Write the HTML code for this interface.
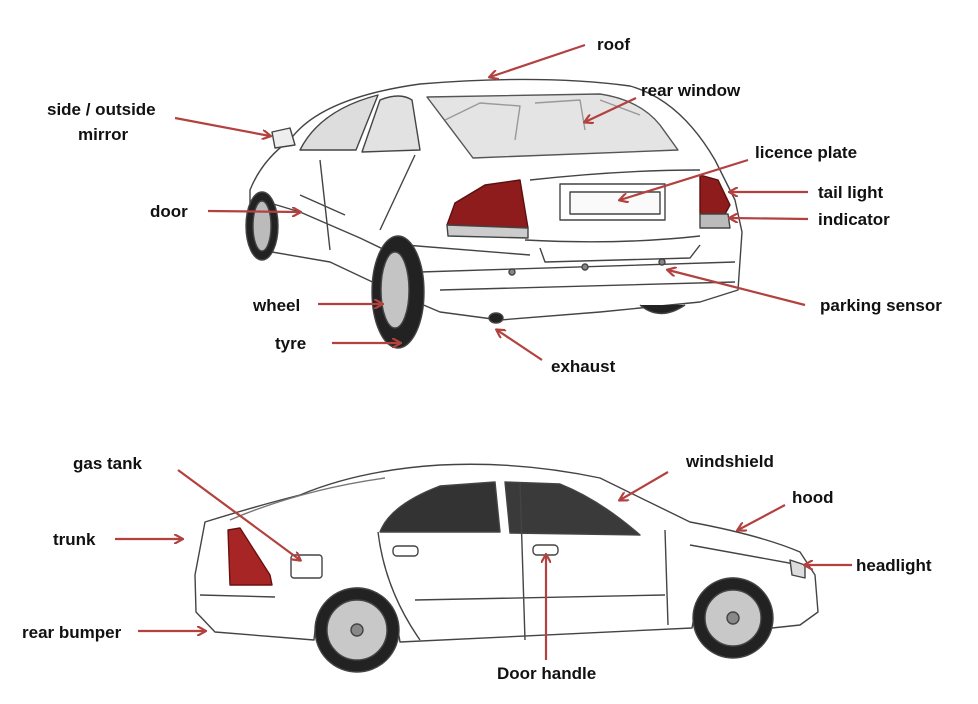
<!DOCTYPE html>
<html><head><meta charset="utf-8"><style>
html,body{margin:0;padding:0;background:#fff;}
svg{display:block}
text{font-family:"Liberation Sans",Arial,sans-serif;font-weight:bold;font-size:17px;fill:#111;}
</style></head><body>
<svg width="978" height="704" viewBox="0 0 978 704" xmlns="http://www.w3.org/2000/svg">
<defs>
<marker id="ah" markerWidth="10" markerHeight="10" refX="8" refY="5" orient="auto" markerUnits="userSpaceOnUse">
<path d="M0,0 L9,5 L0,10" fill="none" stroke="#b2413f" stroke-width="2.2"/>
</marker>
</defs>
<g fill="none" stroke="#444" stroke-width="1.4" stroke-linejoin="round">
<!-- REAR CAR -->
<path d="M250,190 Q262,160 290,140 Q320,98 420,84 Q540,74 630,86 Q680,100 715,160 L735,200 L742,232 L738,290 L700,302 L600,312 L500,320 L440,312 L400,295 L330,262 L272,252 L250,238 Z" fill="#fff"/>
<path d="M427,97 L600,94 Q640,100 660,125 L678,150 L473,158 Z" fill="#e4e4e4" stroke="#555"/>
<path d="M445,120 L480,103 L520,106 L515,140 M535,103 L580,100 L585,130 M600,100 L640,115" stroke="#999"/>
<path d="M300,150 Q320,110 378,95 L356,150 Z" fill="#ddd"/>
<path d="M362,152 L380,100 Q400,92 412,100 L420,150 Z" fill="#e2e2e2"/>
<path d="M272,132 L290,128 L295,145 L275,148 Z" fill="#eee"/>
<path d="M260,200 L300,212 L360,238 L385,250 M300,195 L345,215 M320,160 L330,250 M415,155 L380,230"/>
<path d="M447,225 L455,203 L485,185 L520,180 L528,228 Z" fill="#8e1c1c" stroke="#5a1010"/>
<path d="M447,225 L528,228 L528,238 L448,236 Z" fill="#ccc"/>
<path d="M700,175 L718,180 L730,205 L725,214 L700,214 Z" fill="#8e1c1c" stroke="#5a1010"/>
<path d="M700,214 L728,214 L730,228 L700,228 Z" fill="#bbb"/>
<rect x="560" y="184" width="105" height="36" fill="#fff"/>
<rect x="570" y="192" width="90" height="22" fill="#fafafa"/>
<path d="M530,180 Q620,170 700,170 M525,240 Q620,245 700,236 M540,248 L545,262 L690,258 L700,245 M405,245 L530,255 M420,272 L735,262 M440,290 L735,282"/>
<circle cx="512" cy="272" r="3" fill="#888"/><circle cx="585" cy="267" r="3" fill="#888"/><circle cx="662" cy="262" r="3" fill="#888"/>
<ellipse cx="262" cy="226" rx="16" ry="34" fill="#222"/>
<ellipse cx="262" cy="226" rx="9" ry="25" fill="#bbb"/>
<ellipse cx="398" cy="292" rx="26" ry="56" fill="#222"/>
<ellipse cx="395" cy="290" rx="14" ry="38" fill="#c4c4c4"/>
<path d="M640,305 Q660,322 685,305" fill="#222"/>
<ellipse cx="496" cy="318" rx="7" ry="5" fill="#222"/>
<!-- SIDE CAR -->
<path d="M205,522 Q260,505 300,495 Q360,470 440,465 Q520,461 600,478 Q645,500 690,522 Q760,535 800,552 L815,575 L818,612 L800,625 L772,628 Q760,578 733,578 Q700,578 692,628 L400,642 Q392,588 357,588 Q318,590 314,640 L215,632 L196,612 L195,575 Z" fill="#fff"/>
<path d="M380,532 Q390,505 440,486 L495,482 L500,532 Z" fill="#333"/>
<path d="M505,482 L560,484 Q600,500 640,535 L510,533 Z" fill="#3a3a3a"/>
<path d="M230,520 Q300,490 385,478" stroke="#777"/>
<path d="M228,530 L240,528 L270,575 L272,585 L230,585 Z" fill="#a82525" stroke="#6a1010"/>
<rect x="291" y="555" width="31" height="23" rx="3" fill="#fff"/>
<path d="M378,532 Q385,590 420,640 M520,482 L525,640 M665,530 L668,625 M415,600 L665,595 M200,595 L275,597 M690,545 L800,565"/>
<rect x="393" y="546" width="25" height="10" rx="4"/>
<rect x="533" y="545" width="25" height="10" rx="4"/>
<path d="M790,560 L805,565 L805,578 L792,575 Z" fill="#ddd"/>
<circle cx="357" cy="630" r="42" fill="#222"/>
<circle cx="357" cy="630" r="30" fill="#c8c8c8"/>
<circle cx="357" cy="630" r="6" fill="#888"/>
<circle cx="733" cy="618" r="40" fill="#222"/>
<circle cx="733" cy="618" r="28" fill="#c8c8c8"/>
<circle cx="733" cy="618" r="6" fill="#888"/>
</g>
<!-- ARROWS -->
<g stroke="#b2413f" stroke-width="2.2" fill="none" marker-end="url(#ah)">
<line x1="585" y1="45" x2="490" y2="77"/>
<line x1="636" y1="98" x2="585" y2="122"/>
<line x1="175" y1="118" x2="270" y2="136"/>
<line x1="748" y1="160" x2="620" y2="200"/>
<line x1="808" y1="192" x2="730" y2="192"/>
<line x1="808" y1="219" x2="730" y2="218"/>
<line x1="208" y1="211" x2="300" y2="212"/>
<line x1="318" y1="304" x2="382" y2="304"/>
<line x1="332" y1="343" x2="400" y2="343"/>
<line x1="805" y1="305" x2="668" y2="270"/>
<line x1="542" y1="360" x2="497" y2="330"/>
<line x1="178" y1="470" x2="300" y2="560"/>
<line x1="668" y1="472" x2="620" y2="500"/>
<line x1="785" y1="505" x2="738" y2="530"/>
<line x1="115" y1="539" x2="182" y2="539"/>
<line x1="852" y1="565" x2="805" y2="565"/>
<line x1="138" y1="631" x2="205" y2="631"/>
<line x1="546" y1="660" x2="546" y2="555"/>
</g>
<g>
<text x="597" y="50">roof</text>
<text x="641" y="96">rear window</text>
<text x="47" y="115">side / outside</text>
<text x="78" y="140">mirror</text>
<text x="755" y="158">licence plate</text>
<text x="818" y="198">tail light</text>
<text x="818" y="225">indicator</text>
<text x="150" y="217">door</text>
<text x="253" y="311">wheel</text>
<text x="275" y="349">tyre</text>
<text x="820" y="311">parking sensor</text>
<text x="551" y="372">exhaust</text>
<text x="73" y="469">gas tank</text>
<text x="686" y="467">windshield</text>
<text x="792" y="503">hood</text>
<text x="53" y="545">trunk</text>
<text x="856" y="571">headlight</text>
<text x="22" y="638">rear bumper</text>
<text x="497" y="679">Door handle</text>
</g>
</svg>
</body></html>
